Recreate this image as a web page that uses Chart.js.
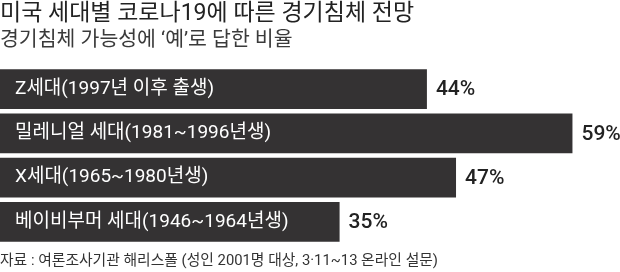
<!DOCTYPE html>
<html lang="ko">
<head>
<meta charset="utf-8">
<script src="https://cdn.jsdelivr.net/npm/chart.js@4"></script>
<style>
  html, body { margin: 0; padding: 0; background: #fff; }
  #wrap { position: relative; width: 620px; height: 272px; }
</style>
</head>
<body>
<div id="wrap"><canvas id="chart" width="620" height="272"></canvas></div>
<script>
// Data
const TITLE = '미국 세대별 코로나19에 따른 경기침체 전망';
const SUBTITLE = '경기침체 가능성에 \u2018예\u2019로 답한 비율';
const SOURCE = '자료 : 여론조사기관 해리스폴 (성인 2001명 대상, 3·11~13 온라인 설문)';
const generations = [
    'Z세대(1997년 이후 출생)',
    '밀레니얼 세대(1981~1996년생)',
    'X세대(1965~1980년생)',
    '베이비부머 세대(1946~1964년생)'
];
const recessionYes = [44, 59, 47, 35];

const FONT = 'Roboto, "Noto Sans CJK KR", sans-serif';
const BAR_COLOR = '#343233';

// Title, subtitle, source, bar labels and value labels
const textPlugin = {
    id: 'texts',
    afterDraw(chart) {
        const ctx = chart.ctx;
        ctx.save();
        ctx.textBaseline = 'middle';
        ctx.textAlign = 'left';

        ctx.fillStyle = '#222';
        ctx.font = `23px ${FONT}`;
        ctx.fillText(TITLE, 0, 14);

        ctx.fillStyle = '#3a3a3a';
        ctx.font = `20.5px ${FONT}`;
        ctx.fillText(SUBTITLE, 0, 41);

        ctx.fillStyle = '#333';
        ctx.font = `14.8px ${FONT}`;
        ctx.fillText(SOURCE, 0, 261);

        const meta = chart.getDatasetMeta(0);
        meta.data.forEach((bar, i) => {
            // category name inside the bar
            ctx.fillStyle = '#fff';
            ctx.font = `19px ${FONT}`;
            ctx.fillText(generations[i], 15, bar.y);
            // value at bar end
            ctx.fillStyle = '#222';
            ctx.font = `500 21px ${FONT}`;
            ctx.fillText(recessionYes[i] + '%', bar.x + 9, bar.y + 1);
        });
        ctx.restore();
    }
};

new Chart(document.getElementById('chart'), {
    type: 'bar',
    data: {
        labels: generations,
        datasets: [{
            data: recessionYes,
            backgroundColor: BAR_COLOR,
            borderWidth: 0,
            barPercentage: 0.9,
            categoryPercentage: 1
        }]
    },
    options: {
        indexAxis: 'y',
        responsive: false,
        animation: false,
        layout: { padding: { top: 67, bottom: 28, left: 0, right: 0 } },
        plugins: {
            legend: { display: false },
            tooltip: { enabled: false }
        },
        scales: {
            x: { display: false, min: 0, max: 63.9 },
            y: { display: false }
        }
    },
    plugins: [textPlugin]
});
</script>
</body>
</html>
